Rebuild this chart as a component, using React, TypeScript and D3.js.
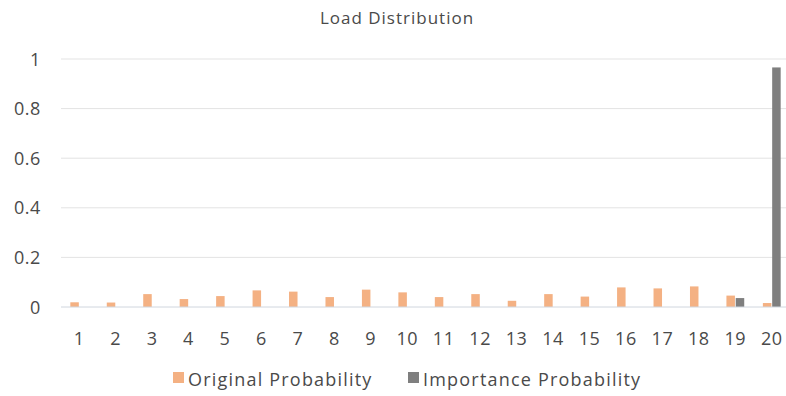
import React from "react";
import * as d3 from "d3";

const categories = ["1","2","3","4","5","6","7","8","9","10","11","12","13","14","15","16","17","18","19","20"];
const originalProbability = [0.019,0.018,0.052,0.032,0.044,0.067,0.062,0.040,0.070,0.059,0.040,0.052,0.025,0.052,0.042,0.079,0.075,0.083,0.046,0.016];
const importanceProbability = [0,0,0,0,0,0,0,0,0,0,0,0,0,0,0,0,0,0,0.036,0.966];
const yTicks = [0, 0.2, 0.4, 0.6, 0.8, 1];
const seriesNames = ["Original Probability", "Importance Probability"];
const seriesColors = ["#F4B183", "#7F7F7F"];

const W = 786;
const H = 396;
const FONT = "'Open Sans', sans-serif";
const TEXT = "#4A4A4A";

export default function App() {
  const x = d3.scaleBand<string>().domain(categories).range([61, 790]);
  const y = d3.scaleLinear().domain([0, 1]).range([307, 59]);
  const barW = 8.5;
  const gap = 0.8;

  return (
    <svg width={W} height={H} style={{ display: "block", position: "absolute", left: 0, top: 0 }}>
      <rect width={W} height={H} fill="#fff" />
      <text x={397} y={24} textAnchor="middle" fontFamily={FONT} fontSize={17} letterSpacing={1} fill={TEXT}>
        Load Distribution
      </text>
      {yTicks.map((t) => (
        <g key={t}>
          {t > 0 && (
            <line x1={61} x2={790} y1={y(t)} y2={y(t)} stroke="#E3E3E3" strokeWidth={1} />
          )}
          <text x={41} y={y(t) + 6.5} textAnchor="end" fontFamily={FONT} fontSize={18} letterSpacing={0.6} fill={TEXT}>
            {d3.format("~g")(t)}
          </text>
        </g>
      ))}
      {categories.map((c, i) => {
        const cx = x(c)! + x.bandwidth() / 2;
        const o = originalProbability[i];
        const p = importanceProbability[i];
        return (
          <g key={c}>
            <rect x={cx - gap / 2 - barW} y={y(o)} width={barW} height={y(0) - y(o)} fill={seriesColors[0]} />
            {p > 0 && (
              <rect x={cx + gap / 2} y={y(p)} width={barW} height={y(0) - y(p)} fill={seriesColors[1]} />
            )}
            <text x={cx} y={345} textAnchor="middle" fontFamily={FONT} fontSize={18} letterSpacing={0.6} fill={TEXT}>
              {c}
            </text>
          </g>
        );
      })}
      <line x1={61} x2={790} y1={y(0)} y2={y(0)} stroke="#D0D6DE" strokeWidth={1} />
      {seriesNames.map((name, i) => {
        const lx = i === 0 ? 173 : 408;
        return (
          <g key={name}>
            <rect x={lx} y={372} width={11} height={11} fill={seriesColors[i]} />
            <text x={lx + 15} y={386} fontFamily={FONT} fontSize={18} letterSpacing={1.2} fill={TEXT}>
              {name}
            </text>
          </g>
        );
      })}
    </svg>
  );
}
